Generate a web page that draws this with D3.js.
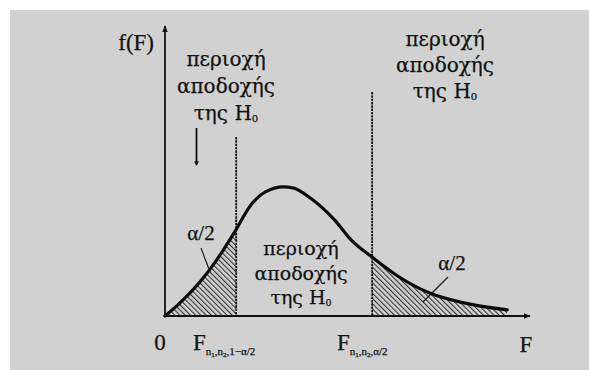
<!DOCTYPE html>
<html>
<head>
<meta charset="utf-8">
<script src="https://cdn.jsdelivr.net/npm/d3@7"></script>
<style>
  html, body { margin: 0; padding: 0; background: #ffffff; }
  svg { display: block; }
  text { font-family: "Liberation Serif", "DejaVu Serif", serif; fill: #111; stroke: #111; stroke-width: 0.25; }
  text.greek { font-family: "DejaVu Serif", "Liberation Serif", serif; }
</style>
</head>
<body>
<svg id="chart" width="589" height="370"></svg>
<script>
// F density curve, sampled (F value, density)
const fValues   = [0, 0.15, 0.4, 0.55, 0.75, 0.95, 1.1, 1.3, 1.4, 1.6, 1.85, 2.05, 2.27, 2.55, 2.9, 3.25, 3.75];
const densities = [0, 0.041, 0.124, 0.186, 0.283, 0.386, 0.428, 0.445, 0.442, 0.405, 0.334, 0.259, 0.203, 0.138, 0.079, 0.047, 0.021];

// critical values F(1-α/2) and F(α/2)
const criticalValues = [0.78, 2.27];
const tailLabels = ["α/2", "α/2"];
const regionLines = ["περιοχή", "αποδοχής", "της H"];

const svg = d3.select("#chart");
const W = 589, H = 370;

// paper background
svg.append("rect").attr("x", 0).attr("y", 0).attr("width", W).attr("height", H).attr("fill", "#ffffff");
svg.append("rect").attr("x", 10).attr("y", 10).attr("width", W - 10).attr("height", H - 10).attr("fill", "#d1d1d1");

const x = d3.scaleLinear().domain([0, 4]).range([165, 530]);
const y = d3.scaleLinear().domain([0, 1]).range([316, 26]);

const pts = fValues.map((f, i) => [f, densities[i]]);

const defs = svg.append("defs");

// diagonal hatching
const pat = defs.append("pattern")
  .attr("id", "hatch")
  .attr("patternUnits", "userSpaceOnUse")
  .attr("width", 3.7).attr("height", 10)
  .attr("patternTransform", "rotate(-45)");
pat.append("line")
  .attr("x1", 0.6).attr("y1", 0).attr("x2", 0.6).attr("y2", 10)
  .attr("stroke", "#1a1a1a").attr("stroke-width", 0.95);

// arrowheads
defs.append("marker")
  .attr("id", "arrow")
  .attr("viewBox", "0 0 10 10")
  .attr("refX", 9).attr("refY", 5)
  .attr("markerWidth", 4).attr("markerHeight", 4)
  .attr("markerUnits", "strokeWidth")
  .attr("orient", "auto")
  .append("path").attr("d", "M0,1 L10,5 L0,9 Z").attr("fill", "#111");

defs.append("marker")
  .attr("id", "arrowSmall")
  .attr("viewBox", "0 0 10 10")
  .attr("refX", 8).attr("refY", 5)
  .attr("markerWidth", 2.6).attr("markerHeight", 2.6)
  .attr("markerUnits", "strokeWidth")
  .attr("orient", "auto")
  .append("path").attr("d", "M0,0 L10,5 L0,10 Z").attr("fill", "#111");

// clip regions for the two tails
const [lo, hi] = criticalValues;
const fMax = fValues[fValues.length - 1];
const clip = defs.append("clipPath").attr("id", "tails");
clip.append("rect")
  .attr("x", x(0)).attr("y", 0)
  .attr("width", x(lo) - x(0)).attr("height", y(0));
clip.append("rect")
  .attr("x", x(hi)).attr("y", 0)
  .attr("width", x(fMax) - x(hi)).attr("height", y(0));

const curve = d3.curveMonotoneX;

const area = d3.area()
  .x(d => x(d[0])).y0(y(0)).y1(d => y(d[1]))
  .curve(curve);

svg.append("path")
  .datum(pts)
  .attr("d", area)
  .attr("fill", "url(#hatch)")
  .attr("clip-path", "url(#tails)");

// dashed critical lines
const dashTops = [0.617, 0.772];
svg.selectAll(".crit")
  .data(criticalValues)
  .join("line")
  .attr("class", "crit")
  .attr("x1", d => x(d)).attr("x2", d => x(d))
  .attr("y1", (d, i) => y(dashTops[i])).attr("y2", y(0))
  .attr("stroke", "#111").attr("stroke-width", 1.8)
  .attr("stroke-dasharray", "2.4,0.9");

// density curve
const line = d3.line().x(d => x(d[0])).y(d => y(d[1])).curve(curve);
svg.append("path")
  .datum(pts)
  .attr("d", line)
  .attr("fill", "none")
  .attr("stroke", "#0c0c0c")
  .attr("stroke-width", 3.2)
  .attr("stroke-linecap", "round");

// axes
svg.append("line")
  .attr("x1", x(0)).attr("y1", y(0)).attr("x2", x(0)).attr("y2", y(1))
  .attr("stroke", "#111").attr("stroke-width", 1.8)
  .attr("marker-end", "url(#arrow)");
svg.append("line")
  .attr("x1", x(0)).attr("y1", y(0)).attr("x2", x(4)).attr("y2", y(0))
  .attr("stroke", "#111").attr("stroke-width", 1.8)
  .attr("marker-end", "url(#arrow)");

// axis titles
svg.append("text").attr("x", 154).attr("y", 50)
  .attr("text-anchor", "end").attr("font-size", 23).text("f(F)");
svg.append("text").attr("x", 526).attr("y", 352)
  .attr("text-anchor", "middle").attr("font-size", 23).text("F");
svg.append("text").attr("x", 160).attr("y", 350)
  .attr("text-anchor", "middle").attr("font-size", 23).text("0");

// region labels
function regionLabel(cx, baseline, step, size) {
  const g = svg.append("g");
  regionLines.forEach((s, i) => {
    const t = g.append("text")
      .attr("class", "greek")
      .attr("x", cx).attr("y", baseline + i * step)
      .attr("text-anchor", "middle")
      .attr("font-size", size);
    t.append("tspan").text(s);
    if (i === regionLines.length - 1) {
      t.append("tspan").attr("font-size", size * 0.5).attr("dy", 2).text("0");
    }
  });
}
regionLabel(226, 66, 27, 20);
regionLabel(445, 46, 26, 20);
regionLabel(301, 255, 24.5, 19);

// down arrow below the left label
svg.append("line")
  .attr("x1", 196.5).attr("y1", 128).attr("x2", 196.5).attr("y2", 165)
  .attr("stroke", "#111").attr("stroke-width", 1.8)
  .attr("marker-end", "url(#arrowSmall)");

// α/2 labels with leader lines
const tailLabelPos = [[201, 240], [452, 270]];
const leaders = [[[201, 248], [210, 272]], [[448, 277], [423, 302]]];
tailLabels.forEach((s, i) => {
  svg.append("text")
    .attr("x", tailLabelPos[i][0]).attr("y", tailLabelPos[i][1])
    .attr("text-anchor", "middle").attr("font-size", 21).text(s);
  svg.append("line")
    .attr("x1", leaders[i][0][0]).attr("y1", leaders[i][0][1])
    .attr("x2", leaders[i][1][0]).attr("y2", leaders[i][1][1])
    .attr("stroke", "#111").attr("stroke-width", 1.1);
});

// critical value labels
function critLabel(xLeft, tail) {
  const t = svg.append("text").attr("x", xLeft).attr("y", 350).attr("font-size", 23);
  t.append("tspan").text("F");
  t.append("tspan").attr("font-size", 11).attr("dy", 5).text("n");
  t.append("tspan").attr("font-size", 7).attr("dy", 2).text("1");
  t.append("tspan").attr("font-size", 11).attr("dy", -2).text(",n");
  t.append("tspan").attr("font-size", 7).attr("dy", 2).text("2");
  t.append("tspan").attr("font-size", 11).attr("dy", -2).text("," + tail);
}
critLabel(193, "1−α/2");
critLabel(337, "α/2");
</script>
</body>
</html>
